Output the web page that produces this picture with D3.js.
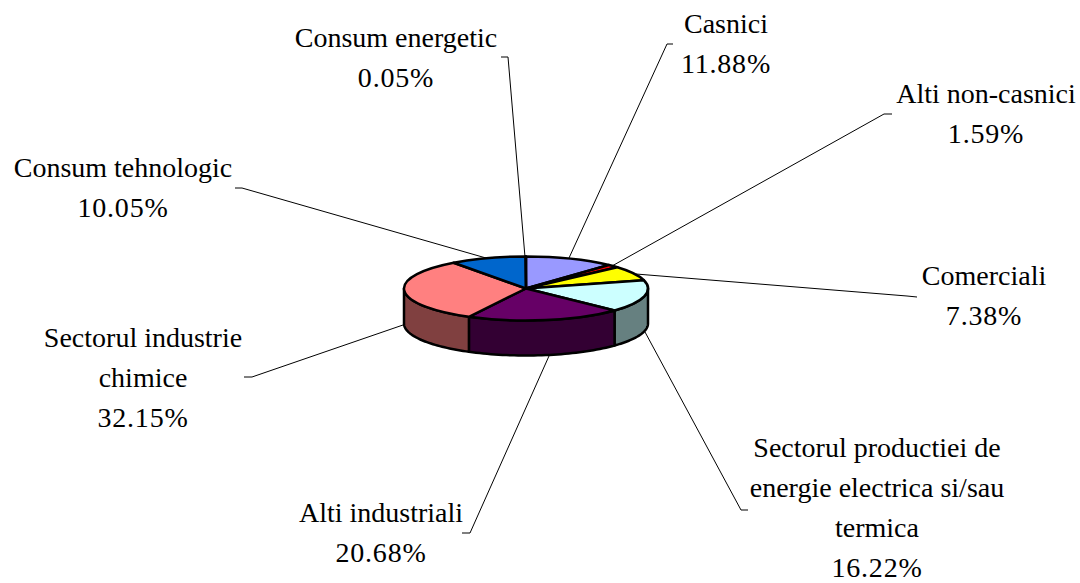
<!DOCTYPE html>
<html>
<head>
<meta charset="utf-8">
<script src="https://cdn.jsdelivr.net/npm/d3@7"></script>
<style>
html,body{margin:0;padding:0;background:#fff;}
text{font-family:"Liberation Serif","Times New Roman",serif;font-size:28px;fill:#000;}
.pct{letter-spacing:0.8px;}
</style>
</head>
<body>
<div id="chart"></div>
<script>
const categories = ["Casnici","Alti non-casnici","Comerciali","Sectorul productiei de energie electrica si/sau termica","Alti industriali","Sectorul industrie chimice","Consum tehnologic","Consum energetic"];
const values = [11.88,1.59,7.38,16.22,20.68,32.15,10.05,0.05];
const topColors = ["#9999ff","#ff0000","#ffff00","#ccffff","#660066","#ff8080","#0066cc","#000080"];
const sideColors = ["#66669a","#800000","#808000","#668080","#330033","#804040","#003366","#000040"];

// label text split in lines, in pie order
const labelLines = [["Casnici"],["Alti non-casnici"],["Comerciali"],["Sectorul productiei de","energie electrica si/sau","termica"],["Alti industriali"],["Sectorul industrie","chimice"],["Consum tehnologic"],["Consum energetic"]];
const labelX = [726,986,984,877,381,143,123,396];
const labelY = [33,103,285,457,522,347,177,47];
// leader elbows
const leaderA = [[569,258],[612,266],[636,274],[645,332],[549,356],[403,325],[486,258],[525,257]];
const leaderB = [[667,44],[884,114],[907,296],[741,510],[470,533],[252,377],[242,188],[508,57]];
const leaderC = [[673,44],[892,114],[917,297],[748,510],[462,533],[244,377],[235,188],[501,57]];

const width = 1080, height = 583;
const cx = 526, cy = 288.5, rx = 122, ry = 32, depth = 35;

const svg = d3.select("#chart").append("svg").attr("width",width).attr("height",height).style("display","block");

const pie = d3.pie().sort(null).value(d=>d).startAngle(0).endAngle(2*Math.PI);
const slices = pie(values);

const px = a => cx + rx*Math.sin(a);
const py = a => cy - ry*Math.cos(a);

// leader lines go under the pie
svg.append("g").selectAll("polyline")
    .data(categories)
    .enter()
    .append("polyline")
    .attr("points",(d,i)=>[leaderA[i],leaderB[i],leaderC[i]].join(" "))
    .attr("fill","none")
    .attr("stroke","#000")
    .attr("stroke-width",1);

// side walls, only the front half of the rim is visible
const line = d3.line();
const walls = svg.append("g");
slices.forEach((s,i)=>{
    const a0 = Math.max(s.startAngle,Math.PI/2), a1 = Math.min(s.endAngle,3*Math.PI/2);
    if (a1 <= a0) return;
    const rim = d3.range(0,41).map(k=>a0+(a1-a0)*k/40);
    const pts = rim.map(a=>[px(a),py(a)]).concat(rim.slice().reverse().map(a=>[px(a),py(a)+depth]));
    walls.append("path")
        .attr("d",line(pts)+"Z")
        .attr("fill",sideColors[i])
        .attr("stroke","#000")
        .attr("stroke-width",2.5)
        .attr("stroke-linejoin","round");
});

// top face, a flat d3 arc squashed into an ellipse
const arc = d3.arc().innerRadius(0).outerRadius(rx);
svg.append("g")
    .attr("transform",`translate(${cx},${cy}) scale(1,${ry/rx})`)
    .selectAll("path")
    .data(slices)
    .enter()
    .append("path")
    .attr("d",arc)
    .attr("fill",(d,i)=>topColors[i])
    .attr("stroke","#000")
    .attr("stroke-width",2.5)
    .attr("stroke-linejoin","round")
    .attr("vector-effect","non-scaling-stroke");

// labels
const labels = svg.append("g").selectAll("text")
    .data(categories)
    .enter()
    .append("text")
    .attr("text-anchor","middle")
    .attr("y",(d,i)=>labelY[i]);
labels.each(function(d,i){
    const t = d3.select(this);
    labelLines[i].forEach((l,k)=>{
        t.append("tspan").attr("x",labelX[i]).attr("dy",k ? 40 : 0).text(l);
    });
    t.append("tspan").attr("class","pct").attr("x",labelX[i]).attr("dy",40).text(values[i].toFixed(2)+"%");
});
</script>
</body>
</html>
